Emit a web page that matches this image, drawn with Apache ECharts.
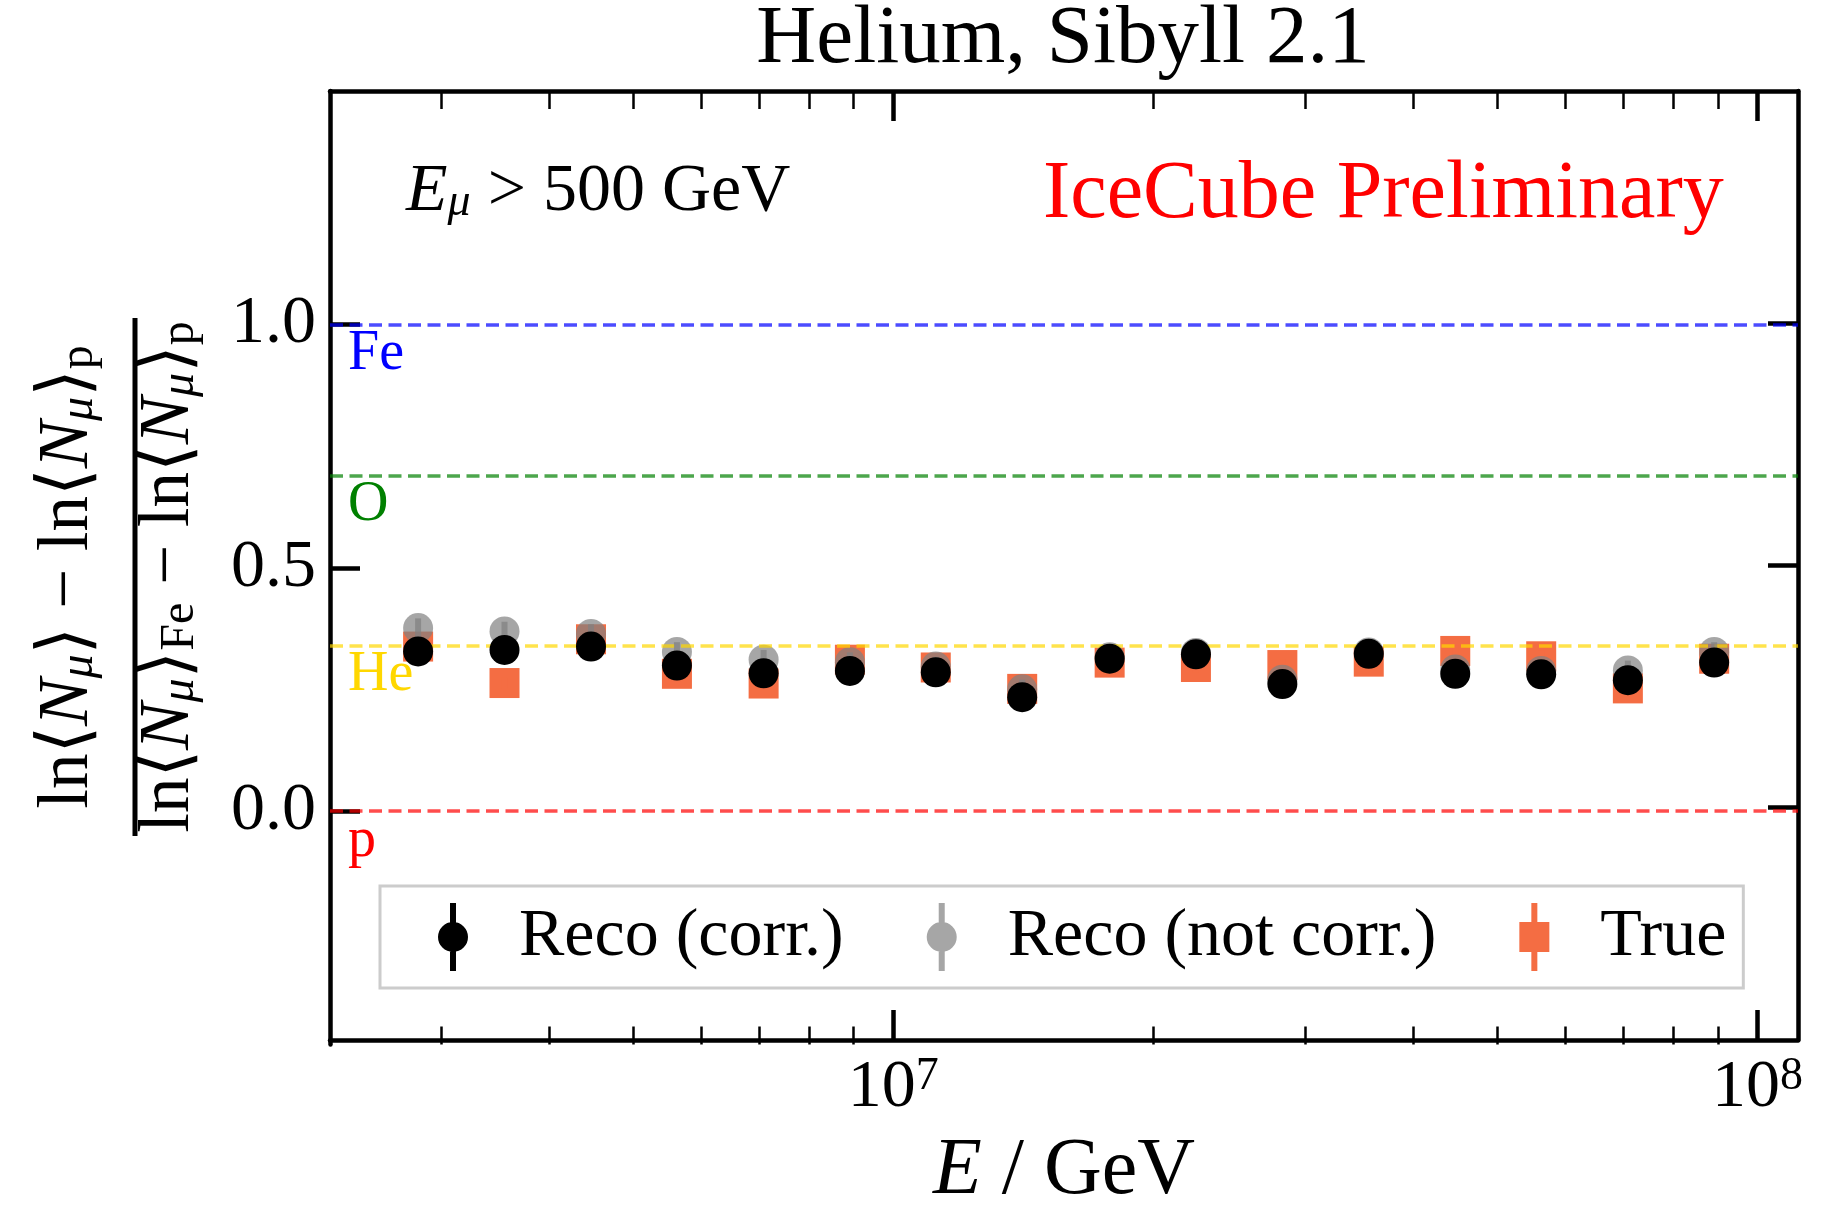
<!DOCTYPE html>
<html>
<head>
<meta charset="utf-8">
<script src="https://cdn.jsdelivr.net/npm/echarts@6/dist/echarts.min.js"></script>
<style>
html, body { margin: 0; padding: 0; background: #fff; }
#chart { width: 1828px; height: 1217px; }
</style>
</head>
<body>
<div id="chart"></div>
<script>
// bin centres, E / GeV
var energy = [2.82e6, 3.55e6, 4.47e6, 5.62e6, 7.08e6, 8.91e6, 1.12e7, 1.41e7,
  1.78e7, 2.24e7, 2.82e7, 3.55e7, 4.47e7, 5.62e7, 7.08e7, 8.91e7];

// Reco (corr.)
var recoCorr = [0.328, 0.331, 0.338, 0.299, 0.283, 0.288, 0.285, 0.234,
  0.313, 0.322, 0.261, 0.323, 0.282, 0.281, 0.269, 0.305];
var recoCorrErr = [0.015, 0.015, 0.015, 0.015, 0.015, 0.015, 0.015, 0.015,
  0.015, 0.015, 0.015, 0.015, 0.015, 0.015, 0.015, 0.015];

// Reco (not corr.)
var recoNotCorr = [0.376, 0.369, 0.364, 0.327, 0.311, 0.306, 0.297, 0.250,
  0.316, 0.325, 0.270, 0.326, 0.291, 0.288, 0.289, 0.327];
var recoNotCorrErr = [0.02, 0.02, 0.02, 0.02, 0.02, 0.02, 0.02, 0.02,
  0.02, 0.02, 0.02, 0.02, 0.02, 0.02, 0.02, 0.02];

// True
var trueVals = [0.338, 0.263, 0.353, 0.282, 0.262, 0.311, 0.295, 0.251,
  0.305, 0.296, 0.300, 0.307, 0.329, 0.318, 0.252, 0.313];
var trueErr = [0.012, 0.012, 0.012, 0.012, 0.012, 0.012, 0.012, 0.012,
  0.012, 0.012, 0.012, 0.012, 0.012, 0.012, 0.012, 0.012];

// pure-element reference levels
var refNames = ['Fe', 'O', 'He', 'p'];
var refLevels = [1.0, 0.689, 0.344, 0.0];
var refLineColors = ['rgba(0,0,255,0.7)', 'rgba(0,128,0,0.7)', 'rgba(255,215,0,0.7)', 'rgba(255,0,0,0.7)'];
var refTextColors = ['#0000ff', '#008000', '#ffd700', '#ff0000'];

// ticks
var xMajorExp = [7, 8];
var xMinorVals = [3e6, 4e6, 5e6, 6e6, 7e6, 8e6, 9e6, 2e7, 3e7, 4e7, 5e7, 6e7, 7e7, 8e7, 9e7];
var yTicks = [0, 0.5, 1.0];

var xMin = 2.23e6, xMax = 1.114e8;
var yMin = -0.48, yMax = 1.48;

var font = "'Liberation Serif', 'Times New Roman', 'DejaVu Serif', serif";
var orange = '#f46d43';
var gray = 'rgba(128,128,128,0.7)';

var chart = echarts.init(document.getElementById('chart'));

function pairs(vals) {
  return energy.map(function (e, i) { return [e, vals[i]]; });
}
function triples(vals, errs) {
  return energy.map(function (e, i) { return [e, vals[i], errs[i]]; });
}
// vertical error bar drawn through the axes
function errRender(color) {
  return function (params, api) {
    var x = api.value(0), y = api.value(1), e = api.value(2);
    var lo = api.coord([x, y - e]);
    var hi = api.coord([x, y + e]);
    return {
      type: 'line',
      shape: { x1: lo[0], y1: lo[1], x2: hi[0], y2: hi[1] },
      style: { stroke: color, lineWidth: 6 }
    };
  };
}

var gridBox = { left: 330, right: 30, top: 91, bottom: 172.5 };
var lineStyle = { color: '#000', width: 4.5 };
var log10 = function (v) { return Math.log(v) / Math.LN10; };
var minorPos = xMinorVals.map(log10);

var circleBar = 'path://M12,0 H18 V68 H12 Z M0,34 A15,15 0 1,1 30,34 A15,15 0 1,1 0,34 Z';
var squareBar = 'path://M12,0 H18 V19 H30 V49 H18 V68 H12 V49 H0 V19 H12 Z';

function mathRich(big, small, drop) {
  return {
    n: { fontSize: big, lineHeight: big, fontFamily: font, color: '#000' },
    i: { fontSize: big, lineHeight: big, fontFamily: font, fontStyle: 'italic', color: '#000' },
    s: { fontSize: small, lineHeight: drop, verticalAlign: 'bottom', fontFamily: font, fontStyle: 'italic', color: '#000' },
    r: { fontSize: small, lineHeight: drop, verticalAlign: 'bottom', fontFamily: font, color: '#000' }
  };
}
var labelRich = mathRich(71, 48, 28);
var noteRich = mathRich(68, 46, 27);

var option = {
  animation: false,
  backgroundColor: '#fff',
  textStyle: { fontFamily: font },
  title: {
    text: 'Helium, Sibyll 2.1',
    left: 1063,
    top: -1,
    padding: 0,
    textAlign: 'center',
    textStyle: { fontSize: 83, fontWeight: 'normal', fontFamily: font, color: '#000' }
  },
  legend: {
    left: 380,
    top: 886,
    itemWidth: 30,
    itemHeight: 68,
    itemGap: 83,
    padding: [17, 17, 17, 58],
    borderColor: '#cccccc',
    borderWidth: 3,
    backgroundColor: '#fff',
    selectedMode: false,
    textStyle: { fontSize: 68, fontFamily: font, color: '#000', padding: [0, 0, 0, 46] },
    data: [
      { name: 'Reco (corr.)', icon: circleBar },
      { name: 'Reco (not corr.)', icon: circleBar },
      { name: 'True', icon: squareBar }
    ]
  },
  grid: [
    Object.assign({}, gridBox),
    Object.assign({}, gridBox),
    Object.assign({}, gridBox)
  ],
  xAxis: [
    // data axis (log)
    { type: 'log', gridIndex: 0, min: xMin, max: xMax, show: false },
    // bottom frame with decades
    {
      type: 'value', gridIndex: 1, position: 'bottom', min: log10(xMin), max: log10(xMax),
      axisLine: { show: true, onZero: false, lineStyle: lineStyle },
      axisTick: { show: true, inside: true, length: 30, lineStyle: lineStyle, customValues: xMajorExp },
      axisLabel: {
        customValues: xMajorExp, margin: 14,
        formatter: function (v) { return '{m|10}{s|' + v + '}'; },
        rich: {
          m: { fontSize: 68, lineHeight: 68, fontFamily: font, color: '#000' },
          s: { fontSize: 46, lineHeight: 53, verticalAlign: 'top', fontFamily: font, color: '#000' }
        }
      },
      splitLine: { show: false },
      name: '{i|E} / GeV',
      nameLocation: 'middle',
      nameGap: 92,
      nameTextStyle: {
        fontSize: 80, fontFamily: font, color: '#000',
        rich: {
          i: { fontSize: 80, fontFamily: font, fontStyle: 'italic', color: '#000' }
        }
      }
    },
    // top frame
    {
      type: 'value', gridIndex: 1, position: 'top', min: log10(xMin), max: log10(xMax),
      axisLine: { show: true, onZero: false, lineStyle: lineStyle },
      axisTick: { show: true, inside: true, length: 30, lineStyle: lineStyle, customValues: xMajorExp },
      axisLabel: { show: false },
      splitLine: { show: false }
    },
    // minor ticks bottom / top
    {
      type: 'value', gridIndex: 2, position: 'bottom', min: log10(xMin), max: log10(xMax),
      axisLine: { show: false, onZero: false },
      axisTick: { show: true, inside: true, length: 18, lineStyle: { color: '#000', width: 2.5 }, customValues: minorPos },
      axisLabel: { show: false },
      splitLine: { show: false }
    },
    {
      type: 'value', gridIndex: 2, position: 'top', min: log10(xMin), max: log10(xMax),
      axisLine: { show: false, onZero: false },
      axisTick: { show: true, inside: true, length: 18, lineStyle: { color: '#000', width: 2.5 }, customValues: minorPos },
      axisLabel: { show: false },
      splitLine: { show: false }
    }
  ],
  yAxis: [
    {
      type: 'value', gridIndex: 0, position: 'left', min: yMin, max: yMax,
      axisLine: { show: true, onZero: false, lineStyle: lineStyle },
      axisTick: { show: true, inside: true, length: 30, lineStyle: lineStyle, customValues: yTicks },
      axisLabel: {
        customValues: yTicks, margin: 14, fontSize: 68, fontFamily: font, color: '#000',
        formatter: function (v) { return v.toFixed(1); }
      },
      splitLine: { show: false }
    },
    {
      type: 'value', gridIndex: 1, position: 'right', min: yMin, max: yMax,
      axisLine: { show: true, onZero: false, lineStyle: lineStyle },
      axisTick: { show: true, inside: true, length: 30, lineStyle: lineStyle, customValues: yTicks },
      axisLabel: { show: false },
      splitLine: { show: false }
    },
    {
      type: 'value', gridIndex: 2, position: 'left', min: yMin, max: yMax, show: false
    }
  ],
  graphic: [
    {
      type: 'group', x: 135, y: 577, rotation: Math.PI / 2,
      children: [
        { type: 'rect', shape: { x: -259, y: -2.5, width: 518, height: 5 }, style: { fill: '#000' } },
        {
          type: 'text', x: 0, y: -67,
          style: {
            text: '{n|ln⟨}{i|N}{s|μ}{n|⟩ − ln⟨}{i|N}{s|μ}{n|⟩}{r|p}',
            rich: labelRich, align: 'center', verticalAlign: 'middle'
          }
        },
        {
          type: 'text', x: 0, y: 34,
          style: {
            text: '{n|ln⟨}{i|N}{s|μ}{n|⟩}{r|Fe}{n| − ln⟨}{i|N}{s|μ}{n|⟩}{r|p}',
            rich: labelRich, align: 'center', verticalAlign: 'middle'
          }
        }
      ]
    },
    {
      type: 'text', x: 406, y: 192,
      style: { text: '{i|E}{s|μ}{n| > 500 GeV}', rich: noteRich, align: 'left', verticalAlign: 'middle' }
    },
    {
      type: 'text', x: 1043, y: 195,
      style: { text: 'IceCube Preliminary', fontSize: 82, fontFamily: font, fill: '#ff0000', align: 'left', verticalAlign: 'middle' }
    }
  ],
  series: [
    {
      name: 'refs', type: 'line', xAxisIndex: 0, yAxisIndex: 0, data: [], z: 1,
      markLine: {
        silent: true, symbol: 'none', animation: false,
        lineStyle: { type: [13, 6.5], width: 3.5 },
        label: { show: true, position: 'insideStartBottom', formatter: '{b}', fontSize: 56, fontFamily: font, distance: [18, 2] },
        data: refNames.map(function (n, i) {
          return { name: n, yAxis: refLevels[i], lineStyle: { color: refLineColors[i] }, label: { color: refTextColors[i] } };
        })
      }
    },
    {
      name: 'True', type: 'scatter', xAxisIndex: 0, yAxisIndex: 0, z: 2,
      symbol: 'rect', symbolSize: 30, itemStyle: { color: orange, opacity: 1 },
      data: pairs(trueVals)
    },
    {
      name: 'True err', type: 'custom', xAxisIndex: 0, yAxisIndex: 0, z: 3,
      renderItem: errRender(orange), encode: { x: 0, y: 1 },
      data: triples(trueVals, trueErr)
    },
    {
      name: 'Reco (not corr.)', type: 'scatter', xAxisIndex: 0, yAxisIndex: 0, z: 4,
      symbol: 'circle', symbolSize: 30, itemStyle: { color: gray, opacity: 1 },
      data: pairs(recoNotCorr)
    },
    {
      name: 'Reco (not corr.) err', type: 'custom', xAxisIndex: 0, yAxisIndex: 0, z: 5,
      renderItem: errRender(gray), encode: { x: 0, y: 1 },
      data: triples(recoNotCorr, recoNotCorrErr)
    },
    {
      name: 'Reco (corr.)', type: 'scatter', xAxisIndex: 0, yAxisIndex: 0, z: 6,
      symbol: 'circle', symbolSize: 30, itemStyle: { color: '#000', opacity: 1 },
      data: pairs(recoCorr)
    },
    {
      name: 'Reco (corr.) err', type: 'custom', xAxisIndex: 0, yAxisIndex: 0, z: 7,
      renderItem: errRender('#000'), encode: { x: 0, y: 1 },
      data: triples(recoCorr, recoCorrErr)
    }
  ]
};

chart.setOption(option);
</script>
</body>
</html>
